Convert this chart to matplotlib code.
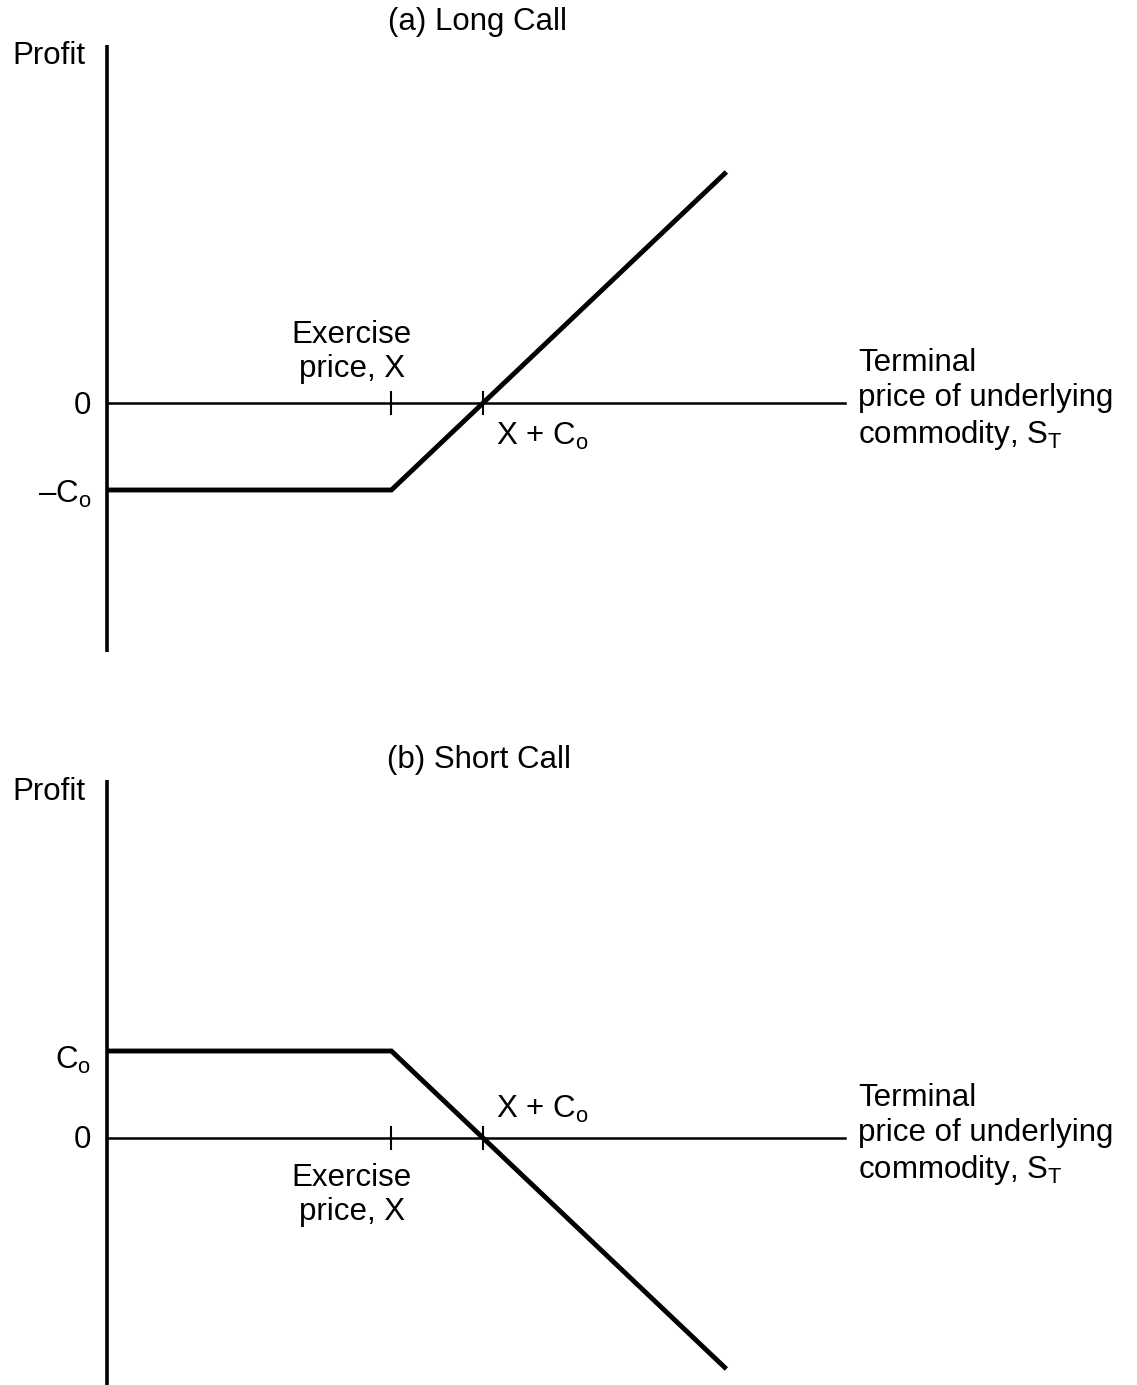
import matplotlib
matplotlib.use("Agg")
import matplotlib.pyplot as plt

plt.rcParams['font.family'] = ['Liberation Sans', 'DejaVu Sans']
plt.rcParams['mathtext.fontset'] = 'custom'
plt.rcParams['mathtext.rm'] = 'Liberation Sans'
plt.rcParams['mathtext.it'] = 'Liberation Sans'

# ---- data (abstract units) ----
exercise_price = 9.0      # X
premium = 2.9             # C_o
s_end = 19.6              # last terminal price drawn for the payoff line
s_axis_end = 23.35        # end of the horizontal (zero-profit) axis
s_points = [0.0, exercise_price, exercise_price + premium, s_end]
long_call = [max(s - exercise_price, 0) - premium for s in s_points]
short_call = [-v for v in long_call]

titles = ["(a) Long Call", "(b) Short Call"]

W, H = 1137, 1385
fig = plt.figure(figsize=(W / 100, H / 100), dpi=100)

px_x = 31.6   # pixels per unit
px_y = 30.0

def fig_xy(x, y):
    return x / W, 1 - y / H

def make_ax(top, bottom, zero):
    left, right = 107, 845
    ax = fig.add_axes([left / W, 1 - bottom / H, (right - left) / W, (bottom - top) / H])
    ax.set_xlim(0, (right - left) / px_x)
    ax.set_ylim(-(bottom - zero) / px_y, (zero - top) / px_y)
    ax.axis('off')
    ax.axvline(0, color='black', lw=2.6, solid_capstyle='butt', clip_on=False)
    ax.plot([0, s_axis_end], [0, 0], color='black', lw=1.8, clip_on=False)
    h = 11 / px_y
    for xv in (exercise_price, exercise_price + premium):
        ax.plot([xv, xv], [-h, h], color='black', lw=1.5, clip_on=False)
    return ax

axA = make_ax(45, 652, 403)
axA.plot(s_points, long_call, color='black', lw=3.5, solid_capstyle='butt',
         solid_joinstyle='miter', clip_on=False)

axB = make_ax(780, 1385, 1138)
axB.plot(s_points, short_call, color='black', lw=3.5, solid_capstyle='butt',
         solid_joinstyle='miter', clip_on=False)

fs = 22.5
kw = dict(fontsize=fs, color='black')
term = "Terminal\nprice of underlying\ncommodity, S$_\\mathrm{T}$"
co = "C$_\\mathrm{o}$"

# Panel (a)
fig.text(*fig_xy(478, 22), titles[0], ha='center', va='center', **kw)
fig.text(*fig_xy(12, 56), "Profit", ha='left', va='center', **kw)
fig.text(*fig_xy(91, 406), "0", ha='right', va='center', **kw)
fig.text(*fig_xy(91, 494), "\u2013" + co, ha='right', va='center', **kw)
fig.text(*fig_xy(352, 352), "Exercise\nprice, X", ha='center', va='center', linespacing=1.2, **kw)
fig.text(*fig_xy(496, 436), "X + " + co, ha='left', va='center', **kw)
fig.text(*fig_xy(858, 400), term, ha='left', va='center', linespacing=1.2, **kw)

# Panel (b)
fig.text(*fig_xy(479, 760), titles[1], ha='center', va='center', **kw)
fig.text(*fig_xy(12, 792), "Profit", ha='left', va='center', **kw)
fig.text(*fig_xy(91, 1060), co, ha='right', va='center', **kw)
fig.text(*fig_xy(91, 1140), "0", ha='right', va='center', **kw)
fig.text(*fig_xy(352, 1195), "Exercise\nprice, X", ha='center', va='center', linespacing=1.2, **kw)
fig.text(*fig_xy(496, 1109), "X + " + co, ha='left', va='center', **kw)
fig.text(*fig_xy(858, 1135), term, ha='left', va='center', linespacing=1.2, **kw)

fig.savefig("out.png", dpi=100, facecolor='white')
